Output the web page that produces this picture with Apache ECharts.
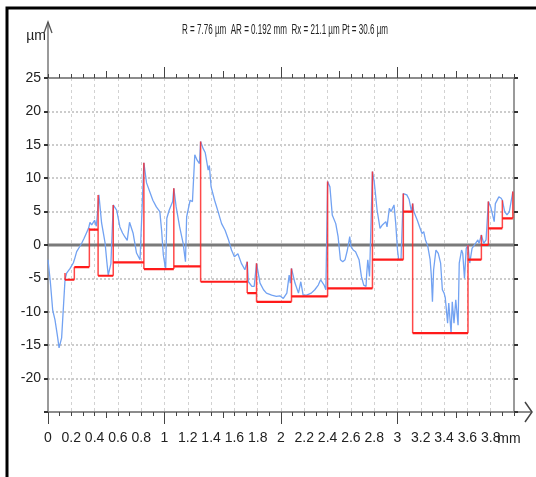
<!DOCTYPE html>
<html><head><meta charset="utf-8">
<script src="https://cdn.jsdelivr.net/npm/echarts@6/dist/echarts.min.js"></script>
<style>html,body{margin:0;padding:0;background:#fff}#c{width:536px;height:477px}</style>
</head><body><div id="c"></div>
<script>
// ---- data ----
const titleText = 'R = 7.76 µm  AR = 0.192 mm  Rx = 21.1 µm Pt = 30.6 µm';
const xUnit = 'mm';
const yUnit = 'µm';
const profileX = [0.000,0.020,0.040,0.060,0.080,0.095,0.117,0.146,0.160,0.190,0.217,0.230,0.246,0.270,0.290,0.310,0.330,0.350,0.360,0.375,0.400,0.415,0.437,0.460,0.475,0.490,0.505,0.517,0.540,0.560,0.575,0.590,0.617,0.640,0.660,0.680,0.700,0.730,0.760,0.790,0.823,0.846,0.875,0.900,0.930,0.960,0.975,0.990,1.010,1.020,1.040,1.070,1.080,1.100,1.130,1.160,1.180,1.190,1.220,1.240,1.260,1.280,1.300,1.310,1.330,1.350,1.375,1.385,1.400,1.430,1.460,1.490,1.520,1.550,1.575,1.600,1.630,1.660,1.690,1.710,1.720,1.750,1.770,1.790,1.820,1.850,1.875,1.920,1.960,1.990,2.020,2.050,2.070,2.080,2.090,2.120,2.150,2.170,2.190,2.220,2.260,2.290,2.320,2.340,2.370,2.385,2.400,2.420,2.440,2.470,2.490,2.510,2.530,2.550,2.570,2.590,2.600,2.620,2.640,2.670,2.690,2.710,2.730,2.735,2.745,2.760,2.785,2.800,2.825,2.850,2.870,2.900,2.910,2.930,2.945,2.970,2.985,3.000,3.010,3.030,3.050,3.080,3.100,3.120,3.130,3.140,3.170,3.190,3.210,3.225,3.240,3.260,3.280,3.290,3.300,3.310,3.330,3.350,3.370,3.385,3.400,3.410,3.430,3.440,3.460,3.470,3.485,3.500,3.520,3.530,3.550,3.560,3.575,3.590,3.605,3.620,3.640,3.660,3.690,3.700,3.720,3.740,3.760,3.780,3.800,3.830,3.840,3.870,3.890,3.900,3.920,3.940,3.960,3.990];
const profileY = [-2.2,-5.5,-9.7,-11.2,-13.5,-15.4,-13.9,-5.2,-4.2,-3.5,-2.7,-2.0,-1.0,-0.3,0.3,1.0,1.8,2.6,3.4,3.0,3.7,2.8,7.5,3.3,1.8,0.3,-2.5,-4.5,-2.8,6.0,5.6,5.2,2.7,1.8,1.2,0.7,3.4,1.8,-1.2,-2.2,12.3,9.3,7.9,6.7,5.7,5.0,2.2,-1.5,-3.7,4.0,5.2,6.5,8.5,5.7,2.7,0.25,-2.5,4.2,6.7,6.5,13.5,12.7,12.2,15.5,14.5,13.8,11.2,11.9,8.7,6.7,5.0,3.2,2.2,0.75,-0.75,-1.75,-1.3,-2.75,-3.7,-2.5,-5.5,-6.2,-6.2,-2.75,-5.7,-6.7,-7.2,-7.5,-7.7,-7.6,-8.0,-7.2,-4.5,-5.7,-3.5,-5.7,-7.2,-5.5,-7.5,-7.5,-7.2,-6.7,-6.0,-5.2,-6.0,-6.7,9.5,8.7,4.5,3.2,1.25,-2.2,-2.5,-2.2,-0.75,1.25,-0.2,-0.75,-1.0,-2.2,-4.7,-6.0,-6.2,-4.5,-2.2,-4.7,11.0,9.5,5.2,2.5,3.0,3.5,2.7,5.5,5.0,6.0,3.2,-0.75,-2.2,-2.2,7.7,7.5,6.8,5.0,6.2,5.0,3.7,2.7,1.7,2.0,0.75,-0.2,-2.2,-4.5,-8.5,-3.7,-0.75,-1.25,-2.7,-6.7,-7.2,-7.9,-11.7,-8.7,-13.2,-8.5,-11.7,-8.2,-12.0,-2.7,-0.75,-1.25,-5.0,-0.5,0.0,-2.7,-0.5,0.0,0.75,0.25,1.5,0.25,0.75,6.5,5.7,3.5,6.2,7.2,7.0,6.7,5.0,4.5,5.0,8.0];
const motifBounds = [0.146,0.226,0.355,0.430,0.560,0.823,1.080,1.310,1.710,1.790,2.090,2.400,2.785,3.050,3.130,3.605,3.720,3.780,3.900,3.990];
const motifPeaks  = [-4.2,-3.3,2.5,7.5,6.0,12.3,8.5,15.5,-2.5,-2.75,-3.5,9.5,11.0,7.7,6.2,0.0,1.5,6.5,6.7,8.0];
const motifLevels = [-5.2,-3.3,2.3,-4.6,-2.6,-3.6,-3.2,-5.5,-7.2,-8.5,-7.7,-6.5,-2.2,5.0,-13.2,-2.2,0.0,2.5,4.0];
const xMin = 0, xMax = 4, xStep = 0.2;
const yMin = -25, yMax = 25, yStep = 5;

// ---- build series data ----
const profile = profileX.map((x, i) => [x, profileY[i]]);
const levelSegs = [];
motifLevels.forEach((L, i) => {
  levelSegs.push([motifBounds[i], L], [motifBounds[i + 1], L], [motifBounds[i + 1], '-']);
});
const vertSegs = [];
motifBounds.forEach((b, i) => {
  const vals = [motifPeaks[i]];
  if (i > 0) vals.push(motifLevels[i - 1]);
  if (i < motifLevels.length) vals.push(motifLevels[i]);
  vertSegs.push([b, Math.max(...vals)], [b, Math.min(...vals)], [b, '-']);
});

const FF = '"Liberation Sans Narrow","Arial Narrow","Liberation Sans",Arial,sans-serif';
const AX = '#8c8c8c', TK = '#444';

// title horizontal compression to match the condensed reference lettering
const mc = document.createElement('canvas').getContext('2d');
mc.font = '14px ' + FF;
const titleScale = 206 / mc.measureText(titleText).width;

const tickAxis = (pos, vals, len) => ({
  type: 'value', min: xMin, max: xMax, position: pos,
  axisLine: { show: false, onZero: false },
  axisLabel: { show: false }, splitLine: { show: false },
  axisTick: { show: true, customValues: vals, length: len, lineStyle: { color: TK, width: 1 } }
});

const chart = echarts.init(document.getElementById('c'));
chart.setOption({
  animation: false,
  backgroundColor: '#fff',
  grid: { left: 48, right: 22, top: 78, bottom: 65, containLabel: false },
  xAxis: [
    {
      type: 'value', min: xMin, max: xMax, interval: xStep, position: 'bottom',
      axisLine: { show: true, onZero: false, lineStyle: { color: AX, width: 2 } },
      axisTick: { show: true, length: 4, lineStyle: { color: TK, width: 1 } },
      minorTick: { show: true, splitNumber: 2, length: 4, lineStyle: { color: TK, width: 1 } },
      axisLabel: {
        margin: 19, fontSize: 14, color: '#222', fontFamily: FF,
        formatter: v => (v >= xMax - 1e-6 ? '' : String(+v.toFixed(1)))
      },
      splitLine: { show: true, lineStyle: { color: '#d2d2d2', type: [3, 3], width: 1 } },
      minorSplitLine: { show: false }
    },
    tickAxis('bottom', [0.5, 1.5, 2.5, 3.5], 6),
    tickAxis('bottom', [0, 1, 2, 3], 12),
    {
      type: 'value', min: xMin, max: xMax, interval: xStep, position: 'top',
      axisLine: { show: true, onZero: false, lineStyle: { color: AX, width: 2 } },
      axisTick: { show: true, length: 4, lineStyle: { color: TK, width: 1 } },
      minorTick: { show: true, splitNumber: 2, length: 4, lineStyle: { color: TK, width: 1 } },
      axisLabel: { show: false }, splitLine: { show: false }
    },
    tickAxis('top', [0.5, 1.5, 2.5, 3.5], 7),
    tickAxis('top', [1, 2, 3], 11)
  ],
  yAxis: [
    {
      type: 'value', min: yMin, max: yMax, interval: yStep, position: 'left',
      axisLine: { show: true, onZero: false, lineStyle: { color: '#9a9a9a', width: 2 } },
      axisTick: { show: true, length: 4, lineStyle: { color: '#333', width: 2 } },
      axisLabel: { margin: 7, fontSize: 14, color: '#222', fontFamily: FF, formatter: v => (v === yMin ? '' : String(v)) },
      splitLine: { show: true, lineStyle: { color: '#bcbcbc', type: [2, 2], width: 1.5 } }
    },
    {
      type: 'value', min: yMin, max: yMax, interval: yStep, position: 'right',
      axisLine: { show: true, onZero: false, lineStyle: { color: '#9a9a9a', width: 2 } },
      axisTick: { show: true, length: 4, lineStyle: { color: '#333', width: 2 } },
      axisLabel: { show: false }, splitLine: { show: false }
    }
  ],
  series: [
    {
      type: 'line', name: 'zero', xAxisIndex: 0, yAxisIndex: 0,
      data: [[xMin, 0], [xMax, 0]], showSymbol: false, silent: true,
      lineStyle: { color: '#7a7a7a', width: 3 }, z: 1
    },
    {
      type: 'line', name: 'profile', xAxisIndex: 0, yAxisIndex: 0,
      data: profile, showSymbol: false, silent: true,
      lineStyle: { color: '#72a2f2', width: 1.3 }, z: 2
    },
    {
      type: 'line', name: 'motif-v', xAxisIndex: 0, yAxisIndex: 0,
      data: vertSegs, showSymbol: false, silent: true, connectNulls: false,
      lineStyle: { color: 'rgba(255,40,40,0.85)', width: 1.5 }, z: 3
    },
    {
      type: 'line', name: 'motif-h', xAxisIndex: 0, yAxisIndex: 0,
      data: levelSegs, showSymbol: false, silent: true, connectNulls: false,
      lineStyle: { color: '#ff1a1a', width: 2.2 }, z: 4
    }
  ],
  graphic: [
    { type: 'rect', silent: true, shape: { x: 7, y: 8, width: 580, height: 520 }, style: { fill: null, stroke: '#000', lineWidth: 3 } },
    { type: 'text', silent: true, x: 285, y: 30, scaleX: titleScale,
      style: { text: titleText, font: '14px ' + FF, fill: '#222', align: 'center', verticalAlign: 'middle' } },
    { type: 'line', silent: true, shape: { x1: 48, y1: 78, x2: 48, y2: 22 }, style: { stroke: '#9a9a9a', lineWidth: 2 } },
    { type: 'polyline', silent: true, shape: { points: [[44, 33], [48, 22], [52, 33]] }, style: { stroke: '#555', lineWidth: 1.3, fill: null } },
    { type: 'line', silent: true, shape: { x1: 514, y1: 412, x2: 531, y2: 412 }, style: { stroke: AX, lineWidth: 2 } },
    { type: 'polyline', silent: true, shape: { points: [[525, 402], [532, 412], [525, 422]] }, style: { stroke: '#444', lineWidth: 1.5, fill: null } },
    { type: 'text', silent: true, x: 36, y: 36,
      style: { text: yUnit, font: '14px ' + FF, fill: '#222', align: 'center', verticalAlign: 'middle' } },
    { type: 'text', silent: true, x: 509, y: 439,
      style: { text: xUnit, font: '14px ' + FF, fill: '#222', align: 'center', verticalAlign: 'middle' } }
  ]
});
</script>
</body></html>
